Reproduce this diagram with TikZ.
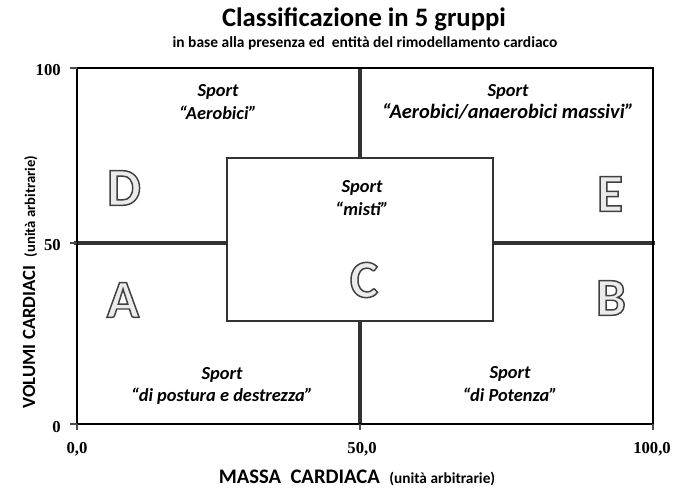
\documentclass[tikz,border=0pt]{standalone}
\usepackage{fontspec}
\setmainfont{Carlito}
\newfontfamily\numf{Liberation Serif}
\tikzset{
  divline/.style={line width=3.6pt, draw=black!80},
  outerbox/.style={line width=2.2pt, draw=black},
  innerbox/.style={line width=2pt, draw=black!80, fill=white},
  tick/.style={line width=0.8pt, draw=black!70},
  numlab/.style={font=\numf\bfseries\fontsize{12.5}{14}\selectfont, inner sep=0pt},
  regtext/.style={font=\bfseries\itshape\fontsize{13.8}{17}\selectfont, align=center, inner sep=0pt},
  ltr/.style={font=\bfseries\fontsize{40}{40}\selectfont, inner sep=0pt},
}
\newcommand\outlined[1]{\special{pdf:code q 0.25 G 2 Tr 1.1 w}#1\special{pdf:code Q}}
\newcommand\bigltr[4]{%
  \node[ltr, text=black!8, path picture={}] (#1) at (#2,#3) {\outlined{#4}};
}
\begin{document}
\begin{tikzpicture}[x=0.75pt,y=-0.75pt]
\useasboundingbox (0,0) rectangle (684,499);
\fill[white] (0,0) rectangle (684,499);
% titles
\node[font=\bfseries\fontsize{20}{24}\selectfont, inner sep=0pt] (title) at (364,19) {Classificazione in 5 gruppi};
\node[font=\bfseries\fontsize{11.6}{14}\selectfont, inner sep=0pt] (subtitle) at (365,43) {in base alla presenza ed\ \ entità del rimodellamento cardiaco};
% dividers
\draw[divline] (74,243) -- (655,243);
\draw[divline] (360,68) -- (360,424);
% outer box
\draw[outerbox] (77,68) rectangle (653,424);
% inner box
\draw[innerbox] (227,158) rectangle (493,321);
% ticks
\draw[tick] (70,68) -- (77,68);
\draw[tick] (70,243) -- (77,243);
\draw[tick] (70,424) -- (77,424);
\draw[tick] (77,424) -- (77,430);
\draw[tick] (360,424) -- (360,430);
\draw[tick] (653,424) -- (653,430);
% axis numbers
\node[numlab, anchor=east] (y100) at (61,70) {100};
\node[numlab, anchor=east] (y50) at (61,245) {50};
\node[numlab, anchor=east] (y0) at (61,427) {0};
\node[numlab] (x0) at (77,449) {0,0};
\node[numlab] (x50) at (362,449) {50,0};
\node[numlab] (x100) at (652,449) {100,0};
% axis labels
\node[inner sep=0pt] (xlab) at (357,478) {\bfseries\fontsize{15.5}{18}\selectfont MASSA\ \ CARDIACA\ \ {\fontsize{11.5}{13}\selectfont(unità arbitrarie)}};
\node[inner sep=0pt, rotate=90] (ylab) at (30,282) {\bfseries\fontsize{14}{16}\selectfont VOLUMI CARDIACI\ \ {\fontsize{11}{13}\selectfont(unità arbitrarie)}};
% region texts
\node[regtext] (tD) at (218,102) {Sport\\“Aerobici”};
\node[regtext] (tE) at (508,102) {Sport\\{\fontsize{15.3}{17}\selectfont“Aerobici/anaerobici massivi”}};
\node[regtext] (tC) at (362,198) {Sport\\“misti”};
\node[regtext] (tA) at (222,386) {Sport\\“di postura e destrezza”};
\node[regtext] (tB) at (510,384) {Sport\\“di Potenza”};
% big letters
\bigltr{D}{124}{188}{D}
\bigltr{E}{610}{194}{E}
\bigltr{A}{123}{300}{A}
\bigltr{B}{611}{298}{B}
\bigltr{C}{364}{280}{C}
\end{tikzpicture}
\end{document}
